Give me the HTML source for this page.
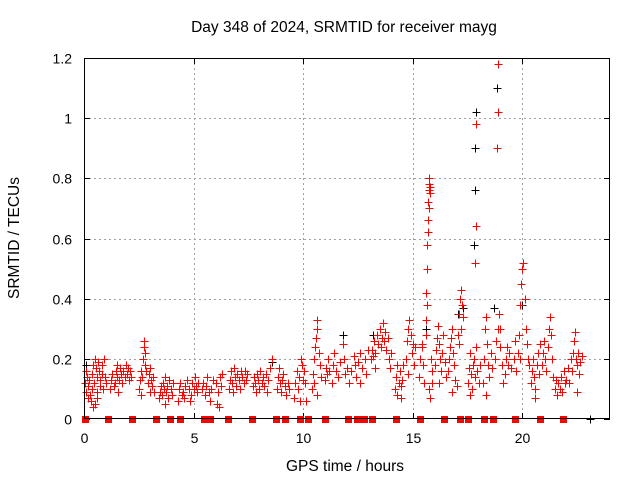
<!DOCTYPE html>
<html><head><meta charset="utf-8"><style>
html,body{margin:0;padding:0;background:#fff}
svg{display:block;font-family:"Liberation Sans",sans-serif}
</style></head><body>
<svg id="chart" width="640" height="480" xmlns="http://www.w3.org/2000/svg">
<text x="344" y="32" font-size="15.5" text-anchor="middle">Day 348 of 2024, SRMTID for receiver mayg</text>
<text transform="translate(19,238) rotate(-90)" font-size="15.5" text-anchor="middle">SRMTID / TECUs</text>
<text x="345" y="471" font-size="15.5" text-anchor="middle">GPS time / hours</text>
<g id="grid"></g>
<g id="ticks"></g>
<g id="marks"></g>
<rect x="84.5" y="58.5" width="525" height="360" fill="none" stroke="#000" stroke-width="1"/>
</svg>
<script>
const xTicks=[0,5,10,15,20];
const yTicks=[0,0.2,0.4,0.6,0.8,1,1.2];
const yTickLabels=["0","0.2","0.4","0.6","0.8","1","1.2"];
const redT=[0.05,0.08,0.1,0.15,0.18,0.2,0.25,0.28,0.3,0.35,0.38,0.4,0.45,0.48,0.5,0.55,0.58,0.6,0.65,0.7,0.72,0.75,0.8,0.82,0.85,0.9,0.95,1.0,0.6,0.4,
1.2,1.25,1.3,1.35,1.4,1.45,1.5,1.55,1.6,1.65,1.7,1.75,1.8,1.85,1.9,1.95,2.0,2.05,2.1,2.15,1.5,
2.5,2.55,2.6,2.65,2.7,2.72,2.75,2.78,2.8,2.85,2.9,2.95,3.0,3.05,3.1,3.15,3.2,2.6,3.0,
3.4,3.45,3.5,3.55,3.6,3.65,3.7,3.75,3.8,3.85,3.9,3.95,4.0,4.05,3.7,
4.3,4.35,4.4,4.45,4.5,4.55,4.6,4.7,4.8,4.85,4.9,4.95,5.0,5.05,5.1,5.15,5.2,
5.4,5.45,5.5,5.55,5.6,5.7,5.75,5.8,5.9,6.0,6.05,6.1,6.15,6.2,6.25,6.3,
6.6,6.65,6.7,6.75,6.8,6.85,6.9,6.95,7.0,7.05,7.1,7.15,7.2,7.3,7.35,7.4,7.45,
7.7,7.75,7.8,7.85,7.9,7.95,8.0,8.05,8.1,8.15,8.2,8.3,8.4,8.5,8.6,8.35,
8.8,8.85,8.9,8.95,9.0,9.05,9.1,9.15,9.2,9.3,9.35,
9.6,9.65,9.7,9.75,9.8,9.9,9.95,10.0,10.05,10.1,10.15,9.85,
10.4,10.45,10.5,10.55,10.6,10.62,10.65,10.7,10.75,10.8,10.5,10.65,
11.0,11.05,11.1,11.15,11.2,11.3,11.35,11.4,11.5,11.6,11.7,11.8,11.85,11.9,12.0,
12.1,12.2,12.3,12.35,12.4,12.5,12.6,12.7,12.8,12.85,12.95,12.6,
13.1,13.15,13.2,13.25,13.3,13.35,13.4,13.5,13.55,13.6,13.65,13.7,13.75,13.8,13.85,13.9,13.95,14.0,13.3,
14.2,14.25,14.3,14.35,14.4,14.45,14.5,14.55,14.3,14.45,
14.7,14.75,14.8,14.85,14.9,14.95,15.0,15.05,15.1,14.8,
15.3,15.35,15.4,15.45,15.5,15.4,
15.6,15.62,15.64,15.66,15.68,15.7,15.72,15.74,15.76,15.78,15.8,15.75,15.7,15.65,15.6,15.85,15.9,15.8,15.75,15.88,
16.0,16.05,16.1,16.15,16.2,16.25,16.3,16.35,16.4,16.45,16.5,16.2,
16.6,16.65,16.7,16.75,16.8,16.85,16.9,16.95,17.0,16.8,
17.05,17.1,17.15,17.2,17.25,17.3,17.2,17.1,
17.5,17.55,17.6,17.65,17.7,17.75,17.8,17.85,17.9,17.95,18.0,18.05,17.85,17.87,17.9,17.6,
18.2,18.25,18.3,18.35,18.4,18.45,18.5,18.55,18.6,18.35,
18.75,18.8,18.85,18.87,18.89,18.9,18.95,19.0,19.05,19.1,19.0,
19.2,19.25,19.3,19.35,19.4,19.5,19.6,19.65,19.7,
19.8,19.85,19.9,19.95,20.0,20.05,20.1,20.15,20.2,20.25,20.3,19.9,
20.4,20.45,20.5,20.55,20.6,20.65,20.7,20.75,20.8,20.6,
20.9,20.95,21.0,21.05,21.1,21.15,21.2,21.25,21.3,21.35,21.4,
21.5,21.55,21.6,21.65,21.7,21.75,21.8,21.9,21.95,
22.0,22.1,22.15,22.2,22.25,22.3,22.35,22.4,22.45,22.5,22.55,22.6,22.65,22.7,22.5];
const redV=[.12,.16,.09,.14,.07,.11,.13,.08,.06,.1,.15,.18,.12,.05,.2,.17,.09,.14,.19,.16,.11,.13,.18,.15,.1,.2,.14,.12,.07,.04,
.1,.13,.15,.11,.12,.16,.14,.09,.13,.17,.15,.12,.16,.14,.18,.15,.17,.13,.16,.14,.18,
.1,.13,.16,.14,.2,.24,.26,.22,.18,.16,.12,.15,.17,.13,.11,.14,.09,.08,.09,
.07,.09,.11,.08,.12,.1,.14,.09,.11,.07,.13,.1,.08,.12,.05,
.06,.1,.12,.08,.09,.07,.11,.13,.1,.06,.08,.12,.1,.14,.11,.09,.12,
.1,.12,.08,.11,.14,.09,.06,.1,.13,.12,.05,.09,.04,.14,.11,.15,
.1,.13,.16,.12,.09,.17,.14,.11,.15,.13,.1,.16,.14,.12,.16,.13,.15,
.11,.14,.12,.09,.15,.13,.1,.16,.12,.14,.11,.15,.13,.17,.2,.09,
.1,.14,.17,.12,.09,.13,.15,.11,.08,.12,.1,
.07,.12,.16,.1,.14,.2,.18,.13,.16,.12,.06,.06,
.1,.15,.2,.24,.27,.3,.33,.22,.18,.14,.12,.08,
.13,.17,.15,.2,.16,.12,.18,.22,.16,.14,.19,.25,.2,.15,.17,
.12,.16,.21,.18,.14,.19,.22,.17,.2,.15,.23,.12,
.2,.23,.21,.26,.22,.28,.25,.3,.24,.27,.32,.26,.29,.23,.27,.2,.17,.22,.17,
.1,.14,.08,.12,.16,.11,.13,.18,.18,.07,
.2,.26,.3,.33,.28,.22,.25,.18,.24,.15,
.14,.2,.24,.18,.12,.25,
.33,.42,.5,.58,.66,.72,.76,.78,.8,.77,.75,.7,.62,.38,.28,.2,.12,.07,.1,.16,
.18,.23,.27,.31,.25,.2,.16,.22,.28,.19,.14,.12,
.16,.2,.24,.27,.3,.22,.18,.13,.11,.09,
.28,.35,.4,.43,.38,.34,.3,.25,
.12,.17,.22,.15,.1,.18,.2,.14,.24,.16,.12,.18,.52,.64,.98,.08,
.12,.2,.3,.34,.25,.18,.14,.22,.17,.08,
.2,.26,.9,1.02,1.18,.3,.35,.24,.18,.12,.3,
.15,.2,.24,.18,.22,.17,.2,.26,.16,
.22,.28,.38,.45,.5,.52,.4,.3,.25,.2,.18,.2,
.12,.16,.2,.14,.1,.18,.22,.15,.25,.07,
.18,.22,.26,.2,.16,.24,.3,.34,.28,.2,.14,
.1,.13,.08,.12,.1,.14,.09,.16,.12,
.13,.17,.12,.2,.16,.22,.26,.29,.2,.18,.22,.15,.19,.21,.09];
const blackT=[17.8,17.83,17.86,17.88,18.85,17.3,18.7,20.0,15.6,11.8,0.1,8.6,13.2,17.05,23.1];
const blackV=[.58,.76,.9,1.02,1.1,.37,.37,.38,.3,.28,.18,.19,.28,.35,0];
const zeroT=[0.05,1.1,2.2,3.28,3.92,4.38,5.47,5.75,6.57,7.66,8.76,9.17,9.85,10.22,11.0,12.04,12.45,12.77,13.14,14.23,15.33,16.42,17.15,17.52,18.25,18.66,19.66,20.8,21.85];

const X0=84,X1=610,Y0=419,Y1=58,XMAX=24,YMAX=1.2;
function sx(t){return X0+(t/XMAX)*(X1-X0);}
function sy(v){return Y0-(v/YMAX)*(Y0-Y1);}
const NS="http://www.w3.org/2000/svg";
const grid=document.getElementById('grid'),ticks=document.getElementById('ticks'),marks=document.getElementById('marks');
function mk(tag,attrs,parent){const e=document.createElementNS(NS,tag);for(const k in attrs)e.setAttribute(k,attrs[k]);parent.appendChild(e);return e;}
xTicks.forEach(t=>{
  const x=Math.round(sx(t))+0.5;
  if(t>0){const g=mk('line',{x1:x,x2:x,y1:Y1,y2:Y0,stroke:'#a0a0a0','stroke-dasharray':'2,3'},grid);
  
  }
  const tk=mk('path',{d:`M${x},${Y0}v-6M${x},${Y1}v6`,stroke:'#000'},ticks);
  
  
  const lb=mk('text',{x:x,y:443,'font-size':14,'text-anchor':'middle'},ticks);lb.textContent=t;
  
  
});
yTicks.forEach((v,i)=>{
  const y=Math.round(sy(v))+0.5;
  if(v>0&&v<YMAX){const g=mk('line',{x1:X0,x2:X1,y1:y,y2:y,stroke:'#a0a0a0','stroke-dasharray':'2,3'},grid);
  
  }
  const tk=mk('path',{d:`M${X0},${y}h6M${X1},${y}h-6`,stroke:'#000'},ticks);
  
  
  const lb=mk('text',{x:72,y:y+5,'font-size':14,'text-anchor':'end'},ticks);lb.textContent=yTickLabels[i];
  
  
});
function plus(t,v,color){
  const x=Math.round(sx(t))+0.5,y=Math.round(sy(v))+0.5;
  return mk('path',{d:`M${x-4},${y}h8M${x},${y-4}v8`,stroke:color,'stroke-width':1},marks);
}
zeroT.forEach(t=>{
  const r=mk('rect',{x:Math.round(sx(t))-3,y:Y0-3,width:7,height:7,fill:'#ff0000'},marks);
  
  
});
blackT.forEach((t,i)=>{
  const p=plus(t,blackV[i],'#000');
  
  
});
redT.forEach((t,i)=>{
  const p=plus(t,redV[i],'#ff0000');
  
  
});
</script>
</body></html>
